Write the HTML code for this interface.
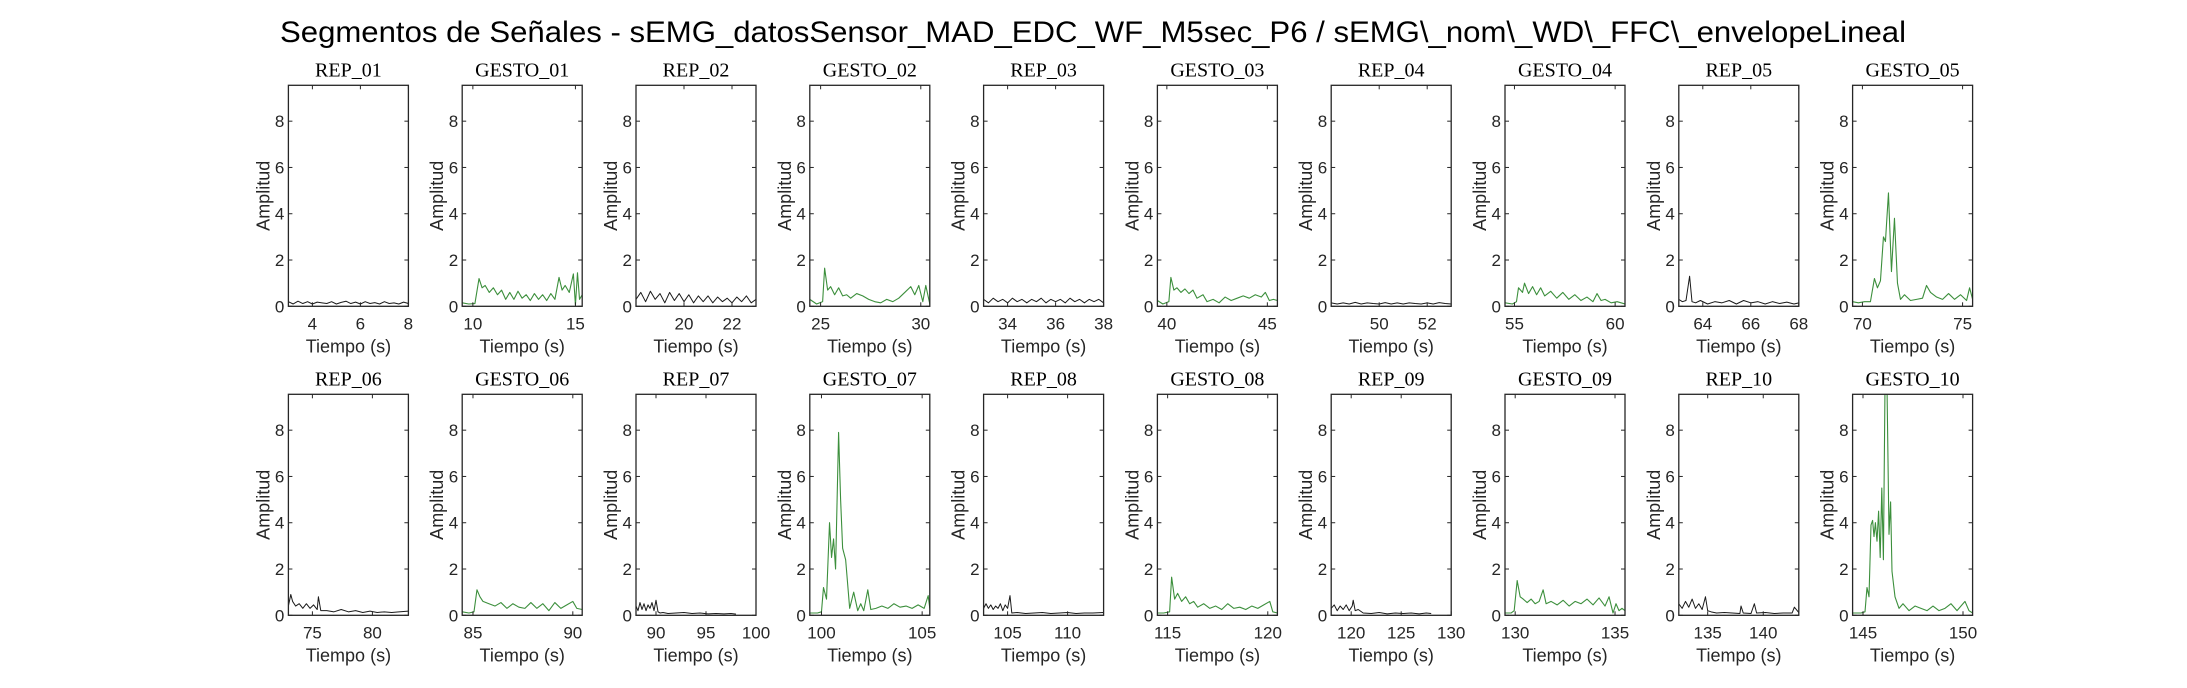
<!DOCTYPE html>
<html><head><meta charset="utf-8">
<style>
html,body{margin:0;padding:0;background:#fff;}
svg{display:block;}
</style></head>
<body>
<svg id="fig" width="2187" height="688" viewBox="0 0 2187 688" xmlns="http://www.w3.org/2000/svg">
<rect width="2187" height="688" fill="#fff"/>
<text x="1093" y="42" text-anchor="middle" font-family="Liberation Sans, sans-serif" font-size="30" fill="#000" textLength="1626" lengthAdjust="spacingAndGlyphs">Segmentos de Señales - sEMG_datosSensor_MAD_EDC_WF_M5sec_P6 / sEMG\_nom\_WD\_FFC\_envelopeLineal</text>
<g id="panels"></g>
</svg>
<script>
const titles = ["REP_01","GESTO_01","REP_02","GESTO_02","REP_03","GESTO_03","REP_04","GESTO_04","REP_05","GESTO_05",
"REP_06","GESTO_06","REP_07","GESTO_07","REP_08","GESTO_08","REP_09","GESTO_09","REP_10","GESTO_10"];
const xMin = [3,9.48,18,24.46,33,39.53,48,54.53,63,69.51,73,84.46,88,99.42,103,114.49,118,129.49,132.4,144.48];
const xMax = [8,15.33,23,30.45,38,45.5,53,60.49,68,75.5,83,90.47,100,105.38,113,120.48,130,135.5,143.2,150.48];
const xTicks = [[4,6,8],[10,15],[20,22],[25,30],[34,36,38],[40,45],[50,52],[55,60],[64,66,68],[70,75],
[75,80],[85,90],[90,95,100],[100,105],[105,110],[115,120],[120,125,130],[130,135],[135,140],[145,150]];
const yTicks = [0,2,4,6,8];
const yMax = 9.55;
const times = [
[3,3.2,3.4,3.6,3.8,4,4.2,4.4,4.6,4.8,5,5.2,5.4,5.6,5.8,6,6.2,6.4,6.6,6.8,7,7.2,7.4,7.6,7.8,8],
[9.48,9.8,10.1,10.3,10.45,10.6,10.8,11,11.2,11.4,11.6,11.8,12,12.2,12.4,12.6,12.8,13,13.2,13.4,13.6,13.8,14,14.2,14.35,14.5,14.7,14.9,15.0,15.1,15.2,15.33],
[18,18.2,18.4,18.6,18.8,19,19.2,19.4,19.6,19.8,20,20.2,20.4,20.6,20.8,21,21.2,21.4,21.6,21.8,22,22.2,22.4,22.6,22.8,23],
[24.46,24.8,25.1,25.2,25.35,25.5,25.7,25.9,26.1,26.3,26.5,26.8,27.1,27.4,27.7,28,28.3,28.6,28.9,29.2,29.5,29.7,29.9,30.1,30.25,30.45],
[33,33.2,33.4,33.6,33.8,34,34.2,34.4,34.6,34.8,35,35.2,35.4,35.6,35.8,36,36.2,36.4,36.6,36.8,37,37.2,37.4,37.6,37.8,38],
[39.53,39.8,40.1,40.2,40.35,40.5,40.7,40.9,41.1,41.3,41.5,41.8,42,42.3,42.6,42.9,43.2,43.5,43.8,44.1,44.4,44.7,44.9,45.1,45.3,45.5],
[48,48.25,48.5,48.75,49,49.25,49.5,49.75,50,50.25,50.5,50.75,51,51.25,51.5,51.75,52,52.25,52.5,52.75,53],
[54.53,54.9,55.1,55.2,55.4,55.5,55.7,55.9,56.1,56.3,56.5,56.8,57.1,57.4,57.7,58,58.3,58.6,58.9,59.1,59.3,59.5,59.8,60.1,60.49],
[63,63.15,63.3,63.45,63.55,63.7,63.9,64.2,64.5,64.8,65.1,65.4,65.7,66,66.3,66.6,66.9,67.2,67.5,67.8,68],
[69.51,69.8,70.1,70.4,70.6,70.75,70.9,71.05,71.15,71.3,71.45,71.6,71.75,71.9,72.1,72.4,72.7,73,73.2,73.4,73.7,74,74.3,74.6,74.9,75.2,75.35,75.5],
[73,73.2,73.35,73.6,73.9,74.2,74.5,74.8,75.1,75.4,75.5,75.7,76.2,76.8,77.4,78,78.6,79.2,79.8,80.4,81,81.6,82.2,83],
[84.46,84.8,85.05,85.2,85.35,85.5,85.8,86.1,86.4,86.7,87,87.3,87.6,87.9,88.2,88.5,88.8,89.1,89.4,89.7,90,90.2,90.47],
[88,88.2,88.4,88.6,88.8,89,89.2,89.4,89.6,89.8,90,90.2,90.4,90.7,91.2,92,92.8,93.6,94.4,95.2,96,96.8,97.5,98],
[99.42,99.8,100.0,100.1,100.25,100.4,100.5,100.6,100.7,100.85,100.95,101.05,101.2,101.4,101.6,101.8,101.95,102.1,102.3,102.45,102.7,103,103.3,103.6,103.9,104.2,104.5,104.8,105.1,105.3,105.38],
[103,103.2,103.4,103.6,103.8,104,104.2,104.4,104.6,104.8,105,105.2,105.35,105.8,106.5,107.2,107.9,108.6,109.3,110,110.7,111.4,112.1,113],
[114.49,114.8,115.1,115.2,115.35,115.5,115.7,115.9,116.1,116.3,116.5,116.8,117.1,117.4,117.7,118,118.3,118.6,118.9,119.2,119.5,119.8,120.1,120.25,120.48],
[118,118.3,118.6,118.9,119.2,119.5,119.8,120.1,120.2,120.4,120.7,121.2,122,122.8,123.6,124.4,125.2,126,126.8,127.5,128],
[129.49,129.8,129.95,130.1,130.25,130.4,130.6,130.8,131,131.2,131.4,131.55,131.8,132.1,132.4,132.7,133,133.3,133.6,133.9,134.2,134.5,134.7,134.9,135.05,135.2,135.35,135.5],
[132.4,132.7,133,133.3,133.6,133.9,134.2,134.5,134.8,135,135.3,135.8,136.5,137.2,137.9,138,138.2,138.9,139.2,139.4,140.2,141,141.8,142.6,142.8,143.2],
[144.48,144.9,145.1,145.2,145.3,145.4,145.48,145.55,145.62,145.7,145.78,145.86,145.94,146.02,146.1,146.2,146.3,146.38,146.45,146.6,146.8,147,147.3,147.6,147.9,148.2,148.5,148.8,149.1,149.4,149.7,150.1,150.3,150.48]
];
const values = [
[0.2,0.1,0.22,0.12,0.2,0.1,0.18,0.15,0.12,0.2,0.1,0.17,0.22,0.12,0.18,0.1,0.2,0.12,0.16,0.1,0.2,0.12,0.15,0.1,0.18,0.12],
[0.15,0.1,0.12,1.2,0.8,0.9,0.6,0.8,0.5,0.7,0.3,0.6,0.3,0.65,0.35,0.5,0.25,0.55,0.3,0.5,0.25,0.55,0.3,1.25,0.7,0.9,0.6,1.4,0.05,1.45,0.3,0.5],
[0.3,0.6,0.2,0.65,0.3,0.55,0.15,0.6,0.25,0.55,0.2,0.5,0.15,0.45,0.2,0.45,0.15,0.4,0.2,0.35,0.15,0.4,0.2,0.45,0.15,0.3],
[0.3,0.1,0.2,1.65,0.7,0.85,0.5,0.8,0.45,0.5,0.35,0.55,0.45,0.3,0.2,0.15,0.3,0.2,0.35,0.6,0.85,0.5,0.9,0.2,0.9,0.1],
[0.3,0.15,0.35,0.2,0.3,0.15,0.35,0.2,0.3,0.15,0.3,0.2,0.35,0.15,0.3,0.2,0.3,0.15,0.35,0.2,0.3,0.15,0.3,0.2,0.3,0.15],
[0.25,0.1,0.2,1.25,0.7,0.8,0.6,0.75,0.55,0.7,0.35,0.5,0.2,0.3,0.15,0.4,0.25,0.35,0.45,0.35,0.5,0.4,0.6,0.25,0.3,0.25],
[0.15,0.1,0.15,0.1,0.17,0.1,0.15,0.12,0.1,0.16,0.1,0.15,0.1,0.15,0.12,0.1,0.15,0.1,0.16,0.12,0.1],
[0.15,0.1,0.2,0.8,0.6,1.0,0.55,0.85,0.5,0.8,0.45,0.65,0.35,0.6,0.3,0.5,0.25,0.4,0.2,0.55,0.25,0.3,0.15,0.2,0.1],
[0.3,0.2,0.25,1.3,0.2,0.15,0.25,0.1,0.2,0.15,0.25,0.1,0.25,0.15,0.2,0.1,0.2,0.12,0.18,0.1,0.15],
[0.2,0.15,0.2,0.2,1.2,0.8,1.1,3.0,2.8,4.9,1.5,3.8,1.0,0.3,0.5,0.25,0.3,0.35,0.9,0.6,0.4,0.3,0.55,0.3,0.5,0.25,0.8,0.3],
[0.4,0.9,0.6,0.4,0.5,0.3,0.5,0.3,0.45,0.25,0.8,0.2,0.2,0.15,0.25,0.15,0.2,0.12,0.18,0.12,0.15,0.12,0.15,0.18],
[0.15,0.1,0.15,1.1,0.8,0.6,0.5,0.4,0.55,0.3,0.5,0.35,0.3,0.55,0.3,0.5,0.2,0.55,0.3,0.45,0.6,0.3,0.25],
[0.4,0.2,0.55,0.25,0.5,0.2,0.45,0.3,0.55,0.2,0.65,0.15,0.1,0.12,0.08,0.1,0.12,0.08,0.1,0.06,0.08,0.06,0.08,0.05],
[0.1,0.1,0.15,1.2,0.7,4.0,2.5,3.3,2.0,7.9,5.0,2.9,2.4,0.3,1.0,0.2,0.5,0.2,1.1,0.25,0.3,0.4,0.3,0.5,0.35,0.4,0.3,0.45,0.3,0.85,0.3],
[0.3,0.5,0.3,0.45,0.25,0.4,0.3,0.5,0.2,0.45,0.3,0.85,0.1,0.12,0.08,0.1,0.12,0.08,0.1,0.12,0.08,0.1,0.1,0.12],
[0.1,0.1,0.15,1.65,0.7,0.95,0.6,0.8,0.5,0.6,0.35,0.5,0.3,0.4,0.25,0.5,0.3,0.35,0.25,0.4,0.3,0.45,0.6,0.15,0.1],
[0.3,0.45,0.2,0.4,0.25,0.45,0.2,0.4,0.65,0.2,0.25,0.1,0.08,0.12,0.06,0.1,0.08,0.1,0.06,0.1,0.08],
[0.1,0.1,0.2,1.5,0.8,0.7,0.55,0.7,0.5,0.6,1.1,0.5,0.6,0.45,0.65,0.4,0.6,0.5,0.7,0.45,0.75,0.4,0.8,0.1,0.5,0.2,0.3,0.2],
[0.5,0.3,0.6,0.35,0.7,0.3,0.5,0.25,0.8,0.2,0.15,0.1,0.12,0.1,0.08,0.4,0.1,0.08,0.5,0.1,0.12,0.08,0.1,0.1,0.35,0.12],
[0.1,0.1,0.15,1.2,0.8,3.9,4.1,3.4,4.0,3.2,4.5,2.5,5.5,2.4,9.9,9.9,3.5,4.9,1.9,0.8,0.3,0.5,0.2,0.4,0.3,0.2,0.4,0.2,0.3,0.5,0.2,0.6,0.2,0.1]
];
const colLeft0 = 288.4, colStep = 173.8, axW = 120;
const rowTop = [85.3, 394.3], axH = 221;
const NS = "http://www.w3.org/2000/svg";
const root = document.getElementById("panels");
function mk(tag, attrs, parent){ const e=document.createElementNS(NS,tag); for(const k in attrs) e.setAttribute(k,attrs[k]); parent.appendChild(e); return e; }
for(let p=0;p<20;p++){
  const col=p%10, row=Math.floor(p/10);
  const L=colLeft0+col*colStep, T=rowTop[row], B=T+axH, R=L+axW;
  const sx=v=>L+(v-xMin[p])/(xMax[p]-xMin[p])*axW;
  const sy=v=>B-v/yMax*axH;
  const isG = titles[p].startsWith("GESTO");
  const g=mk("g",{},root);
  
  
  const clipId="c"+p;
  const cp=mk("clipPath",{id:clipId},g); mk("rect",{x:L,y:T,width:axW,height:axH},cp);
  // line
  const pts=times[p].map((t,i)=>sx(t).toFixed(2)+","+sy(values[p][i]).toFixed(2)).join(" ");
  const line=mk("polyline",{points:pts,fill:"none",stroke:isG?"#3c8f3c":"#1a1a1a","stroke-width":isG?1.1:1,"stroke-linejoin":"round","clip-path":"url(#"+clipId+")"},g);
  
  
  // box
  const box=mk("rect",{x:L,y:T,width:axW,height:axH,fill:"none",stroke:"#262626","stroke-width":1.3},g);
  
  
  // y ticks
  yTicks.forEach(v=>{
    const y=sy(v);
    mk("line",{x1:L,x2:L+4,y1:y,y2:y,stroke:"#262626","stroke-width":1},g);
    mk("line",{x1:R,x2:R-4,y1:y,y2:y,stroke:"#262626","stroke-width":1},g);
    const tl=mk("text",{x:L-4,y:y+6,"text-anchor":"end","font-family":"Liberation Sans, sans-serif","font-size":17,fill:"#262626"},g);
    tl.textContent=v;
    
    
  });
  xTicks[p].forEach(v=>{
    const x=sx(v);
    mk("line",{x1:x,x2:x,y1:B,y2:B-4,stroke:"#262626","stroke-width":1},g);
    mk("line",{x1:x,x2:x,y1:T,y2:T+4,stroke:"#262626","stroke-width":1},g);
    const tl=mk("text",{x:x,y:B+23,"text-anchor":"middle","font-family":"Liberation Sans, sans-serif","font-size":17,fill:"#262626"},g);
    tl.textContent=v;
    
    
  });
  const xl=mk("text",{x:L+axW/2,y:B+46,"text-anchor":"middle","font-family":"Liberation Sans, sans-serif","font-size":18,fill:"#262626"},g);
  xl.textContent="Tiempo (s)";
  
  
  const yl=mk("text",{x:0,y:0,transform:"translate("+(L-19)+","+(T+axH/2)+") rotate(-90)","text-anchor":"middle","font-family":"Liberation Sans, sans-serif","font-size":18,fill:"#262626"},g);
  yl.textContent="Amplitud";
  
  
  const tt=mk("text",{x:L+axW/2,y:T-9,"text-anchor":"middle","font-family":"Liberation Serif, serif","font-size":20,fill:"#000"},g);
  tt.textContent=titles[p];
  
  
}
</script>
</body></html>
